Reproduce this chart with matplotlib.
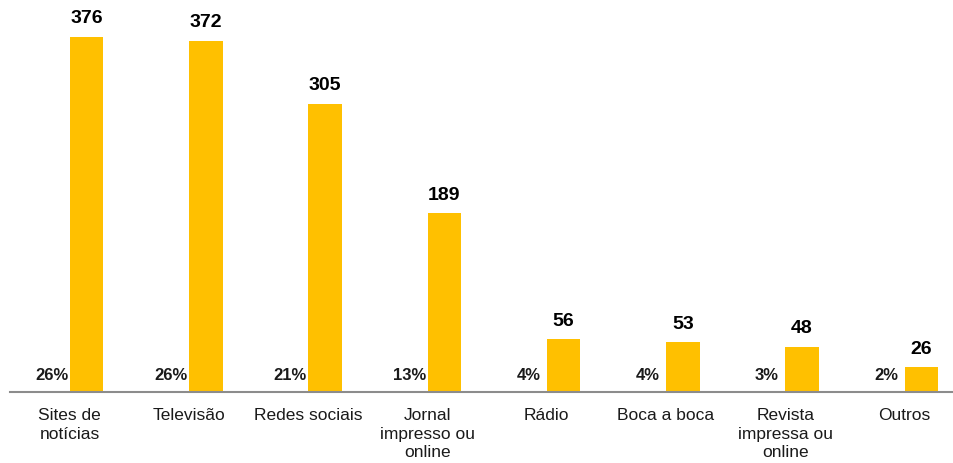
import matplotlib
matplotlib.use("Agg")
import matplotlib.pyplot as plt
import numpy as np

categories = ["Sites de\nnotícias", "Televisão", "Redes sociais", "Jornal\nimpresso ou\nonline",
              "Rádio", "Boca a boca", "Revista\nimpressa ou\nonline", "Outros"]
counts = [376, 372, 305, 189, 56, 53, 48, 26]
shares = ["26%", "26%", "21%", "13%", "4%", "4%", "3%", "2%"]

plt.rcParams["font.family"] = ["Liberation Sans", "DejaVu Sans"]

fig = plt.figure(figsize=(9.54, 4.64), dpi=100)
# each category slot is ~119 px wide; the last slot runs past the right edge
ax = fig.add_axes([10 / 954, 71 / 464, 954 / 954, 393 / 464])

x = np.arange(len(categories))
bar_off = 0.142
bar_w = 0.28
share_off = -0.151
ax.bar(x + bar_off, counts, width=bar_w, color="#FFC000", zorder=2)

for xi, c, s in zip(x, counts, shares):
    ax.annotate(str(c), (xi + bar_off, c), xytext=(0, 7.5), textcoords="offset points",
                ha="center", va="bottom", fontsize=14, fontweight="bold", color="#000000")
    ax.annotate(s, (xi + share_off, 0), xytext=(0, 7), textcoords="offset points",
                ha="center", va="bottom", fontsize=12, fontweight="bold", color="#1a1a1a")

ax.set_xlim(-0.5, len(categories) - 0.5)
ax.set_ylim(0, 416)
ax.set_xticks(x)
ax.set_xticklabels(categories, fontsize=12.5, color="#1a1a1a", linespacing=1.3)
ax.tick_params(axis="x", length=0, pad=11)
ax.set_yticks([])
for side in ["top", "right", "left"]:
    ax.spines[side].set_visible(False)
ax.spines["bottom"].set_color("#8c8c8c")
ax.spines["bottom"].set_linewidth(1.5)

fig.savefig("out.png", dpi=100)
